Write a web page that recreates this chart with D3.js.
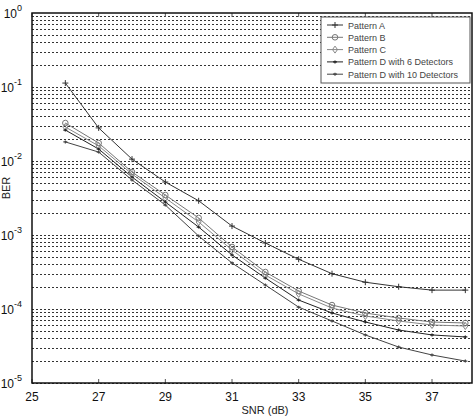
<!DOCTYPE html>
<html>
<head>
<meta charset="utf-8">
<script src="https://cdnjs.cloudflare.com/ajax/libs/d3/7.8.5/d3.min.js"></script>
<style>
  body { margin: 0; background: #fff; }
  text { font-family: "Liberation Sans", Arial, sans-serif; }
</style>
</head>
<body>
<div id="chart"></div>
<script>
// x values (SNR in dB) and BER per pattern
var snr = [26, 27, 28, 29, 30, 31, 32, 33, 34, 35, 36, 37, 38];
var patternA = [0.113, 0.028, 0.0106, 0.0052, 0.0029, 0.00132, 0.00078, 0.00047, 0.00030, 0.00023, 0.00020, 0.00018, 0.00018];
var patternB = [0.0326, 0.0175, 0.0071, 0.00347, 0.00170, 0.000689, 0.000316, 0.000175, 0.000113, 0.0000883, 0.0000756, 0.0000667, 0.0000647];
var patternC = [0.0288, 0.0160, 0.00667, 0.00316, 0.00150, 0.000627, 0.000288, 0.000160, 0.000103, 0.0000804, 0.0000689, 0.0000608, 0.0000589];
var patternD6 = [0.0262, 0.0145, 0.00608, 0.00279, 0.00128, 0.000537, 0.000262, 0.000132, 0.0000883, 0.0000667, 0.0000520, 0.0000446, 0.0000419];
var patternD10 = [0.0181, 0.0132, 0.00554, 0.00254, 0.000969, 0.000419, 0.000211, 0.000106, 0.0000689, 0.0000446, 0.0000306, 0.0000239, 0.0000198];

var seriesNames = ["Pattern A", "Pattern B", "Pattern C", "Pattern D with 6 Detectors", "Pattern D with 10 Detectors"];
var xTicks = [25, 27, 29, 31, 33, 35, 37];
var yExps = [0, -1, -2, -3, -4, -5];

var series = [
  {name: seriesNames[0], values: patternA, color: "#333", marker: "plus"},
  {name: seriesNames[1], values: patternB, color: "#777", marker: "circle"},
  {name: seriesNames[2], values: patternC, color: "#888", marker: "diamond"},
  {name: seriesNames[3], values: patternD6, color: "#222", marker: "dash"},
  {name: seriesNames[4], values: patternD10, color: "#444", marker: "dash"}
];

var W = 476, H = 418;
var margin = {top: 13, right: 4, bottom: 35, left: 32};
var _width = W - margin.left - margin.right;
var _height = H - margin.top - margin.bottom;

var svg = d3.select("#chart").append("svg")
  .attr("width", W).attr("height", H);
var g = svg.append("g")
  .attr("transform", "translate(" + margin.left + "," + margin.top + ")");

var x = d3.scaleLinear().domain([25, 38.2]).range([0, _width]);
var y = d3.scaleLog().domain([1e-5, 1]).range([_height, 0]);

// horizontal dotted grid at every log tick
var gridVals = [];
for (var e = -5; e < 0; e++) {
  for (var m = 1; m <= 9; m++) gridVals.push(m * Math.pow(10, e));
}
g.selectAll(".grid").data(gridVals).enter().append("line")
  .attr("x1", 0).attr("x2", _width)
  .attr("y1", function(d) { return Math.round(y(d)) + 0.5; })
  .attr("y2", function(d) { return Math.round(y(d)) + 0.5; })
  .attr("stroke", "#333").attr("stroke-width", 1)
  .attr("stroke-dasharray", "2,2");

// x ticks, bottom and top, pointing inward
g.selectAll(".xtb").data(xTicks).enter().append("line")
  .attr("x1", function(d) { return x(d); }).attr("x2", function(d) { return x(d); })
  .attr("y1", _height).attr("y2", _height - 4)
  .attr("stroke", "#555");
g.selectAll(".xtt").data(xTicks).enter().append("line")
  .attr("x1", function(d) { return x(d); }).attr("x2", function(d) { return x(d); })
  .attr("y1", 0).attr("y2", 4)
  .attr("stroke", "#555");

g.selectAll(".xlab").data(xTicks).enter().append("text")
  .attr("x", function(d) { return x(d); })
  .attr("y", _height + 18)
  .attr("text-anchor", "middle")
  .attr("font-size", 12)
  .attr("fill", "#111")
  .text(function(d) { return d; });

// y labels as 10^n
var ylab = g.selectAll(".ylab").data(yExps).enter().append("text")
  .attr("x", -10)
  .attr("y", function(d) { return y(Math.pow(10, d)) + 5; })
  .attr("text-anchor", "end")
  .attr("font-size", 12)
  .attr("fill", "#111");
ylab.append("tspan").text("10");
ylab.append("tspan").attr("dy", -7).attr("font-size", 9)
  .text(function(d) { return d === 0 ? "0" : "-" + Math.abs(d); });

// frame
g.append("rect").attr("x", 0).attr("y", 0)
  .attr("width", _width).attr("height", _height)
  .attr("fill", "none").attr("stroke", "#111").attr("stroke-width", 1.5);

// lines
var line = d3.line()
  .x(function(d, i) { return x(snr[i]); })
  .y(function(d) { return y(d); });

series.forEach(function(s) {
  g.append("path").datum(s.values)
    .attr("d", line)
    .attr("fill", "none")
    .attr("stroke", s.color)
    .attr("stroke-width", 1);
});

function drawMarker(sel, type, color) {
  if (type == "circle") {
    sel.append("circle").attr("r", 2.8).attr("fill", "none").attr("stroke", color).attr("stroke-width", 1);
  } else if (type == "diamond") {
    sel.append("path").attr("d", "M0,-3.5L2.5,0L0,3.5L-2.5,0Z").attr("fill", "none").attr("stroke", color).attr("stroke-width", 1);
  } else if (type == "plus") {
    sel.append("path").attr("d", "M-3,0H3M0,-3V3").attr("stroke", color).attr("stroke-width", 1);
  } else {
    sel.append("path").attr("d", "M-2,0H2M0,-1.5V1.5").attr("stroke", color).attr("stroke-width", 1.2);
  }
}

series.forEach(function(s) {
  s.values.forEach(function(v, i) {
    var mg = g.append("g").attr("transform", "translate(" + x(snr[i]) + "," + y(v) + ")");
    drawMarker(mg, s.marker, s.color);
  });
});

// legend
var lg = svg.append("g").attr("transform", "translate(321,17)");
lg.append("rect").attr("x", 0).attr("y", 0).attr("width", 149).attr("height", 66)
  .attr("fill", "#fff").attr("stroke", "#555").attr("stroke-width", 1);
series.forEach(function(s, i) {
  var ly = 8 + i * 12.3;
  lg.append("line").attr("x1", 6).attr("x2", 22).attr("y1", ly).attr("y2", ly)
    .attr("stroke", s.color).attr("stroke-width", 1);
  var mg = lg.append("g").attr("transform", "translate(14," + ly + ")");
  drawMarker(mg, s.marker, s.color);
  lg.append("text").attr("x", 27).attr("y", ly + 3.5)
    .attr("font-size", 9).attr("fill", "#444")
    .text(s.name);
});

// axis titles
svg.append("text")
  .attr("x", 265).attr("y", 414)
  .attr("text-anchor", "middle")
  .attr("font-size", 11).attr("fill", "#222")
  .text("SNR (dB)");
svg.append("text")
  .attr("transform", "translate(10,188) rotate(-90)")
  .attr("text-anchor", "middle")
  .attr("font-size", 11).attr("fill", "#222")
  .text("BER");
</script>
</body>
</html>
